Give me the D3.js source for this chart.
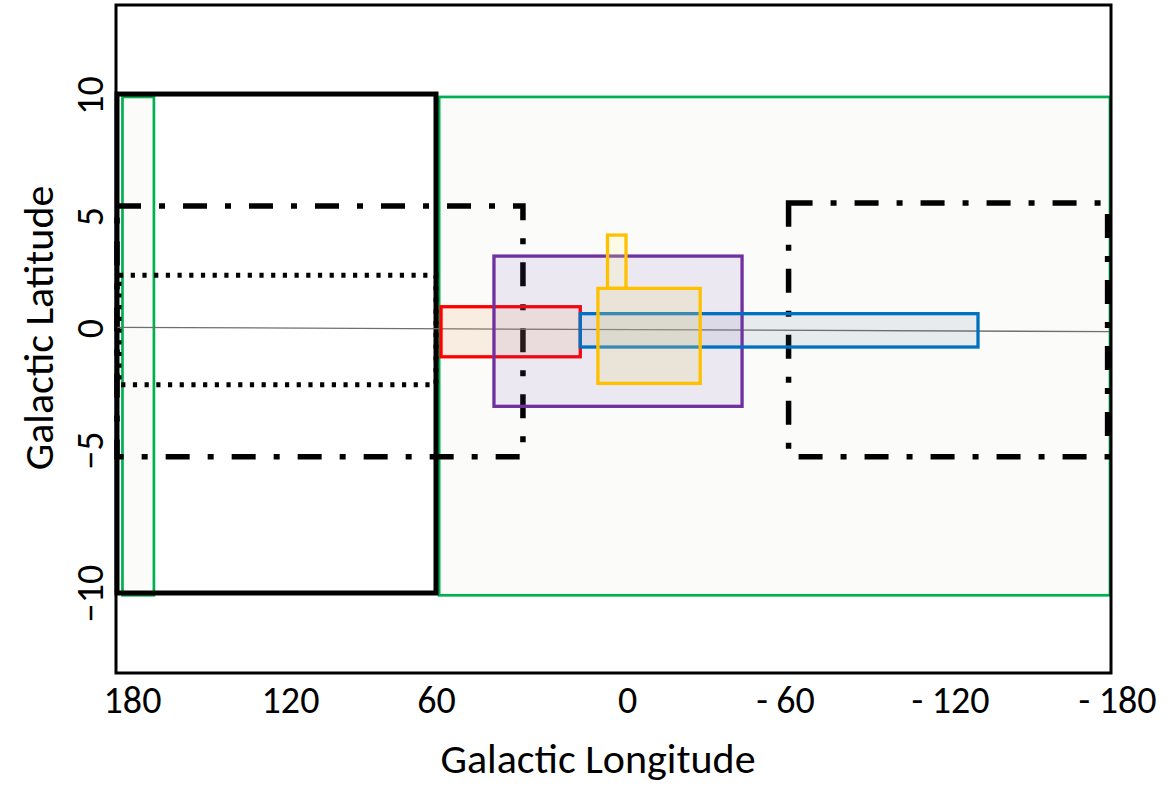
<!DOCTYPE html>
<html>
<head>
<meta charset="utf-8">
<script src="https://cdn.jsdelivr.net/npm/d3@7"></script>
<style>
  html, body { margin: 0; padding: 0; background: #ffffff; }
  svg { display: block; }
  text { font-family: Carlito, Lato, "Open Sans", sans-serif; fill: #000; }
</style>
</head>
<body>
<svg id="chart" width="1171" height="786"></svg>
<script>
// ---- data ----
const lonTicks = [180, 120, 60, 0, -60, -120, -180];
const latTicks = [10, 5, 0, -5, -10];

// survey footprints (galactic longitude / latitude extents)
const boxNames = ["greenWide", "greenNarrow", "blackBox", "dashLeft", "dashRight", "dotted",
                  "red", "purple", "blue", "yellowBig", "yellowSmall"];
const boxLonMax = [59, 178.1, 180, 180, -61.3, 179.3, 58.4, 41.6, 14.2, 8.6, 5.56];
const boxLonMin = [-180, 167.2, 60, 32.4, -179.1, 60, 14.2, -43.9, -130.5, -28.2, -0.37];
const boxLatMax = [9.92, 9.92, 10.04, 5.41, 5.54, 2.35, 0.95, 3.21, 0.64, 1.77, 4.15];
const boxLatMin = [-10.08, -10.08, -10, -5.24, -5.24, -2.33, -1.18, -3.21, -0.78, -2.27, 1.77];

// galactic plane reference line
const planeLon = [180, -180];
const planeLat = [0.03, -0.15];

// ---- styles ----
const boxStyle = {
  greenWide:   { stroke: "#00b050", width: 2.7, fill: "#fbfbf9", dash: null },
  greenNarrow: { stroke: "#00b050", width: 2.7, fill: "#fbfbf9", dash: null },
  blackBox:    { stroke: "#000000", width: 5, fill: "none", dash: null },
  dashLeft:    { stroke: "#000000", width: 5.5, fill: "none", dash: "24,18,6,18" },
  dashRight:   { stroke: "#000000", width: 5.5, fill: "none", dash: "24,18,6,18" },
  dotted:      { stroke: "#000000", width: 5, fill: "none", dash: "4.2,7.5" },
  red:         { stroke: "#ff0000", width: 3.3, fill: "rgba(240,150,80,0.13)", dash: null },
  purple:      { stroke: "#7030a0", width: 3.3, fill: "rgba(120,80,180,0.11)", dash: null },
  blue:        { stroke: "#0070c0", width: 3.3, fill: "rgba(80,110,150,0.11)", dash: null },
  yellowBig:   { stroke: "#ffc000", width: 3.3, fill: "rgba(225,215,140,0.25)", dash: null },
  yellowSmall: { stroke: "#ffc000", width: 3.3, fill: "rgba(255,250,150,0.2)", dash: null }
};

const svg = d3.select("#chart");

const frame = { left: 116, right: 1111, top: 5, bottom: 673 };

const x = d3.scaleLinear().domain(lonTicks).range([117, 290, 436, 625, 785, 950, 1110]);
const y = d3.scaleLinear().domain(latTicks).range([95, 216, 328, 450, 593]);

const boxes = boxNames.map((n, i) => ({
  name: n, l0: boxLonMax[i], l1: boxLonMin[i], b0: boxLatMax[i], b1: boxLatMin[i]
}));

const gBoxes = svg.append("g");
const planeLine = d3.line().x(d => x(d[0])).y(d => y(d[1]));

boxes.forEach(d => {
  const s = boxStyle[d.name];
  if (d.name === "red") {
    // galactic plane line goes beneath the coloured footprints
    gBoxes.append("path")
      .datum(planeLon.map((l, i) => [l, planeLat[i]]))
      .attr("d", planeLine)
      .attr("stroke", "#6f6f6f")
      .attr("stroke-width", 1.3)
      .attr("fill", "none");
  }
  const x0 = x(d.l0), x1 = x(d.l1), y0 = y(d.b0), y1 = y(d.b1);
  const r = gBoxes.append("rect")
    .attr("x", Math.min(x0, x1))
    .attr("y", Math.min(y0, y1))
    .attr("width", Math.abs(x1 - x0))
    .attr("height", Math.abs(y1 - y0))
    .attr("fill", s.fill)
    .attr("stroke", s.stroke)
    .attr("stroke-width", s.width);
  if (s.dash) r.attr("stroke-dasharray", s.dash);
});

// frame
svg.append("rect")
  .attr("x", frame.left).attr("y", frame.top)
  .attr("width", frame.right - frame.left)
  .attr("height", frame.bottom - frame.top)
  .attr("fill", "none").attr("stroke", "#000").attr("stroke-width", 3);

// x axis
const xAxis = svg.append("g")
  .attr("transform", `translate(0,${frame.bottom})`)
  .call(d3.axisBottom(x).tickValues(lonTicks).tickSize(0)
    .tickFormat(d => d < 0 ? "- " + (-d) : String(d)));
xAxis.select(".domain").remove();
xAxis.selectAll("text")
  .attr("y", 40).attr("dy", 0)
  .attr("dx", d => d === 180 ? 15 : (d === -180 ? 7 : (d === 0 ? 2 : 0)))
  .style("font-size", "38px")
  .style("font-family", "Carlito, Lato, sans-serif");

// y axis
const yAxis = svg.append("g")
  .attr("transform", `translate(${frame.left},0)`)
  .call(d3.axisLeft(y).tickValues(latTicks).tickSize(0));
yAxis.select(".domain").remove();
yAxis.selectAll("text")
  .attr("x", null).attr("dy", 0)
  .attr("text-anchor", "middle")
  .attr("transform", "translate(-13,0) rotate(-90)")
  .style("font-size", "38px")
  .style("font-family", "Carlito, Lato, sans-serif");

// axis titles
svg.append("text")
  .attr("x", 598).attr("y", 773)
  .attr("text-anchor", "middle")
  .style("font-size", "42px")
  .text("Galactic Longitude");

svg.append("text")
  .attr("transform", "translate(53,328) rotate(-90)")
  .attr("text-anchor", "middle")
  .style("font-size", "42px")
  .text("Galactic Latitude");
</script>
</body>
</html>
